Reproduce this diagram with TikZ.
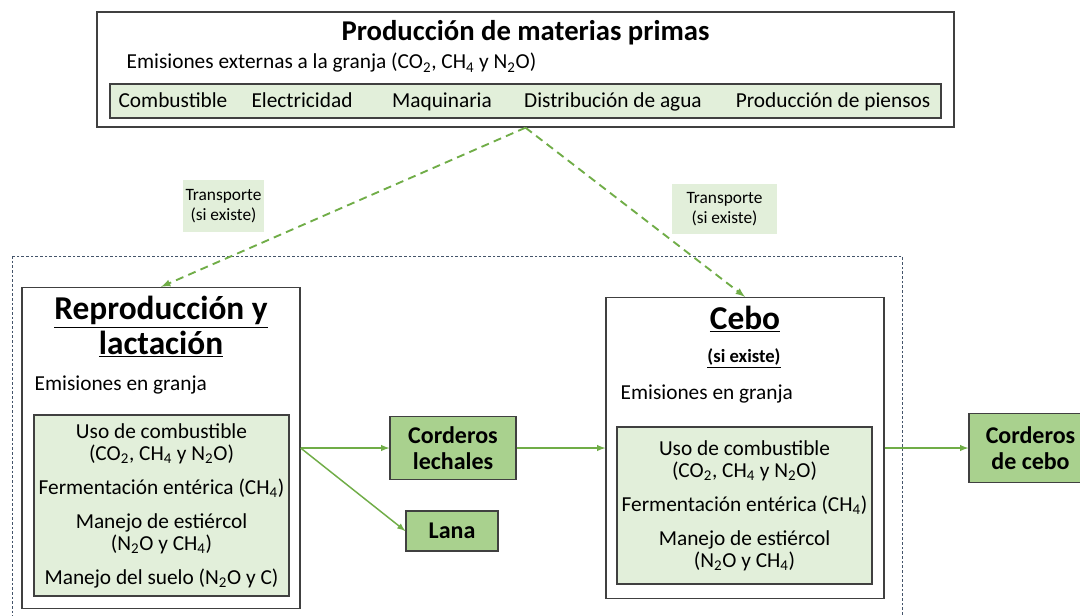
\documentclass[tikz,border=0pt]{standalone}
\usepackage{fontspec}
\setmainfont{Carlito}
\usetikzlibrary{positioning}
\definecolor{verdeclaro}{HTML}{E2EFDA}
\definecolor{verde}{HTML}{A9D18E}
\definecolor{flecha}{HTML}{70AD47}
\definecolor{borde}{HTML}{404040}
\definecolor{marco}{HTML}{44546A}
\newcommand{\subi}[1]{\textsubscript{#1}}

\begin{document}
\begin{tikzpicture}[x=0.75pt,y=-0.75pt,
  caja/.style={draw=borde,line width=1pt,inner sep=0pt},
  lista/.style={caja,fill=verdeclaro,align=center,font=\fontsize{16}{16.5}\selectfont},
  texto/.style={font=\fontsize{16}{19}\selectfont},
  insumo/.style={texto,anchor=base},
  producto/.style={caja,fill=verde,align=center,font=\fontsize{18}{20}\selectfont\bfseries},
  transporte/.style={fill=verdeclaro,align=center,inner sep=0pt,font=\fontsize{13}{15}\selectfont},
  flujo/.style={draw=flecha,line width=1.1pt,-latex},
  envio/.style={flujo,line width=1.4pt,dash pattern=on 6pt off 4pt}]
\clip (0,0) rectangle (1080,615);
\fill[white] (0,0) rectangle (1080,615);

\draw[marco,dash pattern=on 2pt off 1.5pt,line width=0.6pt] (12,256) rectangle (902,625);

\node[caja,minimum width=642.75pt,minimum height=86.25pt] (materias) at (525.5,69.5) {};
\node[font=\fontsize{21.5}{24}\selectfont\bfseries] (titulo) at (525.5,33) {Producción de materias primas};
\node[texto,anchor=west] (externas) at (122,63)
  {Emisiones externas a la granja (CO\subi{2}, CH\subi{4} y N\subi{2}O)};
\node[lista,minimum width=623.25pt,minimum height=25.5pt] (insumos) at (525.5,101) {};
\node[insumo] (comb) at (173,107) {Combustible};
\node[insumo] (elec) at (302,107) {Electricidad};
\node[insumo] (maq) at (442,107) {Maquinaria};
\node[insumo] (agua) at (613,107) {Distribución de agua};
\node[insumo] (piensos) at (833,107) {Producción de piensos};

\node[transporte,minimum width=60.75pt,minimum height=39pt] (trans1) at (223.5,206) {Transporte\\(si existe)};
\node[transporte,minimum width=78.75pt,minimum height=37.5pt] (trans2) at (724.5,209) {Transporte\\(si existe)};

\node[caja,minimum width=208.5pt,minimum height=240.75pt] (repro) at (161,448) {};
\node[align=center,font=\fontsize{25}{26}\selectfont\bfseries] (reprotit) at (161,327)
  {\underline{Reproducción y}\\\underline{lactación}};
\node[texto,anchor=west] (granja1) at (30,385) {Emisiones en granja};
\node[lista,minimum width=191.25pt,minimum height=135.75pt] (emis1) at (161.5,505.5)
  {Uso de combustible\\(CO\subi{2}, CH\subi{4} y N\subi{2}O)\\[9pt]
   Fermentación entérica (CH\subi{4})\\[9pt]
   Manejo de estiércol\\(N\subi{2}O y CH\subi{4})\\[9pt]
   Manejo del suelo (N\subi{2}O y C)};

\node[producto,minimum width=94.5pt,minimum height=47.25pt] (lechales) at (453,448) {Corderos\\lechales};
\node[producto,minimum width=69pt,minimum height=30pt] (lana) at (452,531) {Lana};

\node[caja,minimum width=208.5pt,minimum height=225.75pt] (cebo) at (745,448) {};
\node[font=\fontsize{25}{26}\selectfont\bfseries] (cebotit) at (745,319) {\underline{Cebo}};
\node[font=\fontsize{14}{16}\selectfont\bfseries] (existe) at (744,358) {\underline{(si existe)}};
\node[texto,anchor=west] (granja2) at (616,394) {Emisiones en granja};
\node[lista,minimum width=191.25pt,minimum height=117.75pt] (emis2) at (744.5,505.5)
  {Uso de combustible\\(CO\subi{2}, CH\subi{4} y N\subi{2}O)\\[9pt]
   Fermentación entérica (CH\subi{4})\\[9pt]
   Manejo de estiércol\\(N\subi{2}O y CH\subi{4})};

\node[producto,minimum width=92.25pt,minimum height=51.75pt] (cebados) at (1030.5,448) {Corderos\\de cebo};

\draw[envio] (materias.south) -- (repro.north);
\draw[envio] (materias.south) -- (cebo.north);
\draw[flujo] (repro.east) -- (lechales.west);
\draw[flujo] (repro.east) -- (lana.west);
\draw[flujo] (lechales.east) -- (cebo.west);
\draw[flujo] (cebo.east) -- (cebados.west);
\end{tikzpicture}
\end{document}
